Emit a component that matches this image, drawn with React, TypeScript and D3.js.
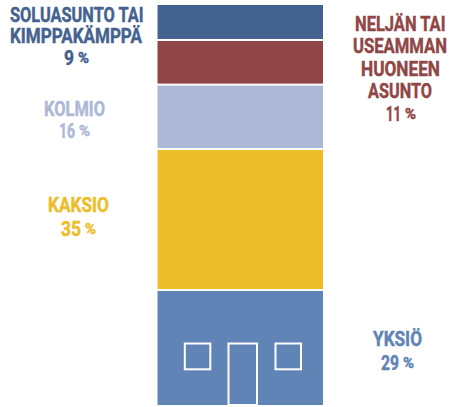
import React from "react";
import * as d3 from "d3";

const categories = ["YKSIÖ", "KAKSIO", "KOLMIO", "NELJÄN TAI USEAMMAN HUONEEN ASUNTO", "SOLUASUNTO TAI KIMPPAKÄMPPÄ"];
const barShares = [28.75, 35.25, 16.1, 11.15, 8.75];
const percentLabels = ["29", "35", "16", "11", "9"];
const colors = ["#6084b5", "#edbe2a", "#adb8d6", "#904646", "#44628f"];
const labelLines = [
  ["YKSIÖ"],
  ["KAKSIO"],
  ["KOLMIO"],
  ["NELJÄN TAI", "USEAMMAN", "HUONEEN", "ASUNTO"],
  ["SOLUASUNTO TAI", "KIMPPAKÄMPPÄ"],
];

const W = 457, H = 407;
const FONT = "Roboto, sans-serif";
const SIZE = 21;
// [left, right, baseline] for each text line, final entry is the percent line
const lineLayout: number[][][] = [
  [[373, 422, 345.5], [381, 414, 369.5]],
  [[48, 109, 211.5], [61, 96, 235.5]],
  [[44, 105, 115.5], [59, 90, 137.5]],
  [[355, 446, 30.5], [353, 447, 52.5], [361, 440, 75.5], [368, 432, 97.5], [386, 416, 120.5]],
  [[10, 144, 21.5], [10, 142, 42.5], [64, 89, 64.5]],
];

const ctx = document.createElement("canvas").getContext("2d")!;
function widthOf(t: string, size: number) {
  ctx.font = `700 ${size}px Roboto`;
  return ctx.measureText(t).width;
}

function Fit({ t, l, r, b, size, fill }: { t: string; l: number; r: number; b: number; size: number; fill: string }) {
  const sx = (r - l) / widthOf(t, size);
  return (
    <text transform={`translate(${l},${b}) scale(${sx},1)`} fill={fill} fontFamily={FONT} fontWeight={700}
      fontSize={size} stroke={fill} strokeWidth={0.45}>
      {t}
    </text>
  );
}

export default function App() {
  const y = d3.scaleLinear().domain([0, 100]).range([405, 5]);
  const x = d3.scaleBand().domain(["stack"]).range([157.5, 323]);
  const stackGen = d3.stack<number[]>().keys(categories.map((_, i) => String(i)) as any).value((d: any, k: any) => d[+k]);
  const series = stackGen([barShares]);
  const bw = x.bandwidth();
  const x0 = x("stack")!;
  const blueTop = y(series[0][0][1]) + 1;
  const win = (left: number, w: number, h: number) => (
    <rect x={x0 + left} y={blueTop + 52.5} width={w} height={h} fill="none" stroke="#fff" strokeWidth={2} />
  );
  return (
    <svg width={W} height={H} viewBox={`0 0 ${W} ${H}`} style={{ position: "absolute", left: 0, top: 0, background: "#fff" }}>
      {series.map((s, i) => {
        const top = y(s[0][1]) + (i === 4 ? 0 : 1);
        const bottom = y(s[0][0]) - (i === 0 ? 0 : 1);
        return <rect key={i} x={x0} y={top} width={bw} height={bottom - top} fill={colors[i]} />;
      })}
      {win(27.3, 25.5, 25.8)}
      {win(71, 28.5, 61.5)}
      {win(118, 25.5, 25.8)}
      {labelLines.map((lines, i) => {
        const layout = lineLayout[i];
        const nodes = lines.map((t, j) => {
          const [l, r, b] = layout[j];
          return <Fit key={`${i}-${j}`} t={t} l={l} r={r} b={b} size={SIZE} fill={colors[i]} />;
        });
        const [l, r, b] = layout[lines.length];
        return (
          <g key={i}>
            {nodes}
            <Fit t={percentLabels[i]} l={l} r={r - 15} b={b} size={SIZE} fill={colors[i]} />
            <Fit t="%" l={r - 11} r={r} b={b - 2} size={14} fill={colors[i]} />
          </g>
        );
      })}
    </svg>
  );
}
